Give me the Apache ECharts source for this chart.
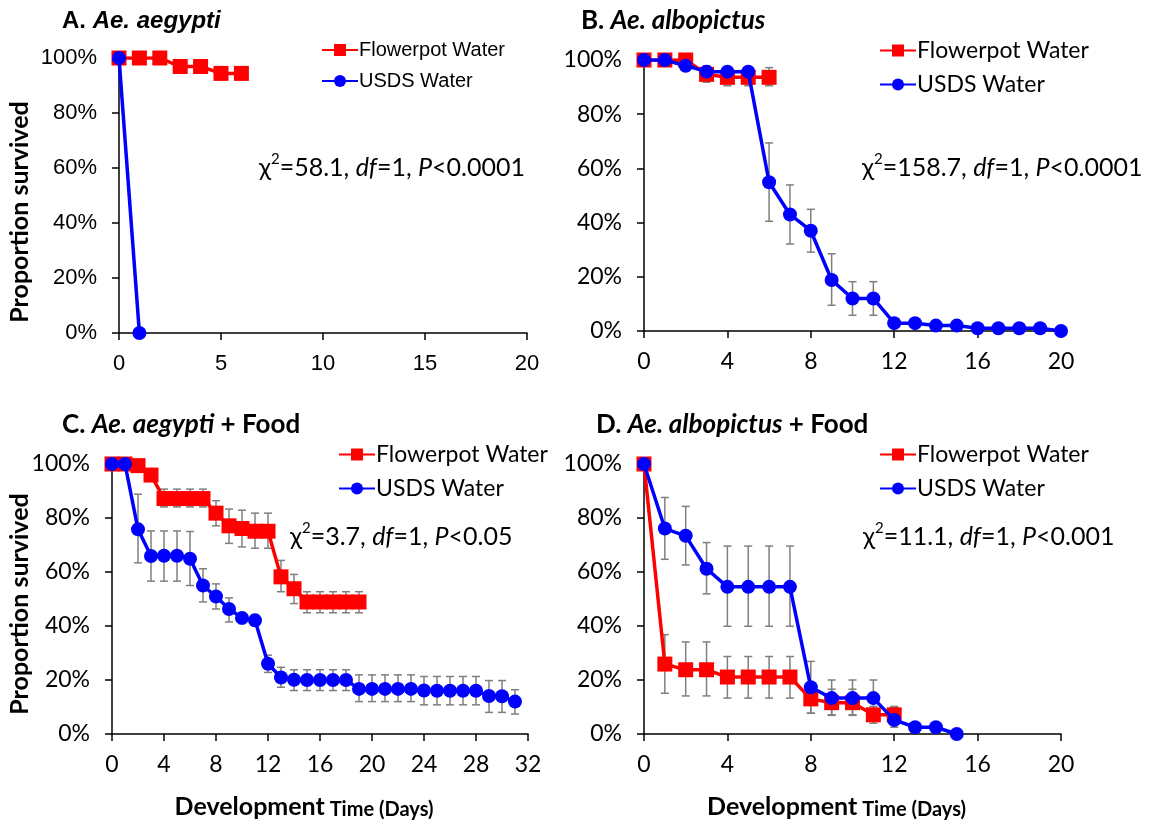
<!DOCTYPE html>
<html>
<head>
<meta charset="utf-8">
<title>Survival</title>
<script src="https://cdn.jsdelivr.net/npm/echarts@6/dist/echarts.min.js"></script>
<style>
  html, body { margin: 0; padding: 0; background: #fff; }
  #chart { width: 1160px; height: 823px; }
</style>
</head>
<body>
<div id="chart"></div>
<script>
// values are percent survived, index = day
var aFlower = [100, 100, 100, 96.9, 96.9, 94.4, 94.4];
var aUsds = [100, 0];

var bFlower = [100, 100, 100, 94.7, 93.6, 93.6, 93.6];
var bFlowerLo = [null, null, null, 91.8, 90.5, 90.5, 90.5];
var bFlowerHi = [null, null, null, 97.9, 97.3, 97.3, 97.2];
var bUsds = [100, 100, 97.9, 95.7, 95.7, 95.7, 54.9, 43, 37, 18.8, 12, 12, 2.9, 2.9, 2, 2, 1, 1, 1, 1, 0];
var bUsdsLo = [null, null, null, null, null, null, 40.5, 32.1, 29.1, 9.5, 5.8, 5.8];
var bUsdsHi = [null, null, null, null, null, null, 69.4, 53.9, 44.9, 28.5, 18.2, 18.2];

var cFlower = [100, 100, 99.4, 95.9, 87.2, 87.2, 87.2, 87.2, 81.8, 77.1, 76.1, 75.1, 75.1, 58.2, 53.8, 48.9, 48.9, 48.9, 48.9, 48.9];
var cFlowerLo = [null, null, null, null, 84.1, 84.1, 84.1, 84.1, 77.1, 70.6, 69.3, 68.8, 68.8, 52.7, 48.3, 44.9, 44.9, 44.9, 44.9, 44.9];
var cFlowerHi = [null, null, null, null, 90.7, 90.7, 90.7, 90.7, 86.4, 83.3, 82.9, 81.8, 81.8, 64.3, 59.1, 52.7, 52.7, 52.7, 52.7, 52.7];
var cUsds = [100, 100, 75.8, 65.9, 66, 66, 64.9, 55, 50.9, 46.3, 43, 42.1, 26, 20.9, 20.1, 20, 20, 20, 20, 16.7, 16.7, 16.7, 16.7, 16.7, 16.1, 16, 16, 16, 16, 14.1, 14, 12];
var cUsdsLo = [null, null, 63.4, 56.6, 56.6, 56.6, 55, 48.9, 46.3, 41.5, 40.9, 40.1, 22.8, 17.3, 16.1, 16.1, 16.1, 16.1, 16.1, 12, 12, 12, 12, 12, 10.8, 10.8, 10.8, 10.8, 10.8, 8, 8, 7.4];
var cUsdsHi = [null, null, 88.8, 75.2, 75.2, 75.2, 75, 61.2, 55.6, 50.4, 44.6, 44.2, 29.2, 24.7, 23.8, 23.8, 23.8, 23.8, 23.8, 21.9, 21.9, 21.9, 21.9, 21.9, 21.3, 21.3, 21.3, 21.3, 21.3, 19.8, 19.8, 16.4];

var dFlower = [100, 25.9, 23.8, 23.8, 21.1, 21.1, 21.1, 21.1, 13, 11.6, 11.6, 7.1, 7.1];
var dFlowerLo = [null, 15.1, 14.1, 14.1, 13.3, 13.3, 13.3, 13.3, 7.7, 7.1, 7.1, 4, 4];
var dFlowerHi = [null, 36.8, 34.1, 34.1, 28.7, 28.7, 28.7, 28.7, 17.6, 16.6, 16.6, 10.2, 10.2];
var dUsds = [100, 76.1, 73.4, 61.2, 54.5, 54.5, 54.5, 54.5, 17.3, 13.3, 13.3, 13.3, 5.2, 2.5, 2.5, 0];
var dUsdsLo = [null, 64.7, 62.6, 51.9, 39.9, 39.9, 39.9, 39.9, 7.7, 6.9, 6.9, 6.9, 2.5];
var dUsdsHi = [null, 87.6, 84.3, 70.9, 69.6, 69.6, 69.6, 69.6, 26.9, 20, 20, 20, 9.9];

var xMax = [20, 20, 32, 20];
var xStep = [5, 4, 4, 4];
var stats = ['=58.1, ', '=158.7, ', '=3.7, ', '=11.1, '];
var pvals = ['<0.0001', '<0.0001', '<0.05', '<0.001'];

var RED = '#ff0000', BLUE = '#0000ff', GREY = '#7f7f7f';
var ARIAL = 'Liberation Sans', CAL = 'Lato';

var grids = [
  { left: 119, top: 58, width: 408, height: 275 },
  { left: 644, top: 60, width: 417, height: 271 },
  { left: 112, top: 464, width: 416, height: 270 },
  { left: 644, top: 464, width: 417, height: 270 }
];

function pts(arr) { return arr.map(function (v, i) { return [i, v]; }); }
function errPts(lo, hi) {
  var out = [];
  lo.forEach(function (l, i) { if (l != null) out.push([i, l, hi[i]]); });
  return out;
}

function lineSeries(name, vals, g, color, sym) {
  return {
    name: name, type: 'line', xAxisIndex: g, yAxisIndex: g, data: pts(vals),
    symbol: sym, symbolSize: sym === 'rect' ? 15 : 14, z: sym === 'rect' ? 3 : 4,
    lineStyle: { color: color, width: 3.5 }, itemStyle: { color: color },
    animation: false
  };
}

function errSeries(lo, hi, g) {
  return {
    type: 'custom', xAxisIndex: g, yAxisIndex: g, data: errPts(lo, hi), z: 2,
    encode: { x: 0, y: [1, 2] }, animation: false, silent: true,
    renderItem: function (params, api) {
      var x = api.value(0);
      var p1 = api.coord([x, api.value(1)]);
      var p2 = api.coord([x, api.value(2)]);
      var w = 4;
      var st = { stroke: GREY, lineWidth: 1.5 };
      return {
        type: 'group', children: [
          { type: 'line', shape: { x1: p1[0], y1: p1[1], x2: p2[0], y2: p2[1] }, style: st },
          { type: 'line', shape: { x1: p1[0] - w, y1: p1[1], x2: p1[0] + w, y2: p1[1] }, style: st },
          { type: 'line', shape: { x1: p2[0] - w, y1: p2[1], x2: p2[0] + w, y2: p2[1] }, style: st }
        ]
      };
    }
  };
}

var xAxes = [], yAxes = [];
for (var g = 0; g < 4; g++) {
  var font = g === 0 ? ARIAL : CAL;
  var fs = g === 0 ? 22 : 23;
  xAxes.push({
    type: 'value', gridIndex: g, min: 0, max: xMax[g], interval: xStep[g],
    axisLine: { show: true, onZero: false, lineStyle: { color: '#000', width: 1.5 } },
    axisTick: { show: true, inside: false, length: 7, lineStyle: { color: '#000', width: 1.5 } },
    axisLabel: { color: '#000', fontFamily: font, fontSize: fs, margin: g === 0 ? 20 : 19 },
    splitLine: { show: false }
  });
  yAxes.push({
    type: 'value', gridIndex: g, min: 0, max: 100, interval: 20,
    axisLine: { show: true, lineStyle: { color: '#000', width: 1.5 } },
    axisTick: { show: true, inside: false, length: 7, lineStyle: { color: '#000', width: 1.5 } },
    axisLabel: { color: '#000', fontFamily: font, fontSize: fs, margin: 22, formatter: '{value}%' },
    splitLine: { show: false }
  });
}

var series = [
  lineSeries('Flowerpot Water', aFlower, 0, RED, 'rect'),
  lineSeries('USDS Water', aUsds, 0, BLUE, 'circle'),
  errSeries(bFlowerLo, bFlowerHi, 1),
  errSeries(bUsdsLo, bUsdsHi, 1),
  lineSeries('Flowerpot Water', bFlower, 1, RED, 'rect'),
  lineSeries('USDS Water', bUsds, 1, BLUE, 'circle'),
  errSeries(cFlowerLo, cFlowerHi, 2),
  errSeries(cUsdsLo, cUsdsHi, 2),
  lineSeries('Flowerpot Water', cFlower, 2, RED, 'rect'),
  lineSeries('USDS Water', cUsds, 2, BLUE, 'circle'),
  errSeries(dFlowerLo, dFlowerHi, 3),
  errSeries(dUsdsLo, dUsdsHi, 3),
  lineSeries('Flowerpot Water', dFlower, 3, RED, 'rect'),
  lineSeries('USDS Water', dUsds, 3, BLUE, 'circle')
];

// [left, top, gap, font, size]
var legendPos = [[316, 35, 11, ARIAL, 20], [874, 34, 11, CAL, 23], [333, 438, 11, CAL, 23], [874, 438, 11, CAL, 23]];
var legends = legendPos.map(function (p) {
  return {
    orient: 'vertical', left: p[0], top: p[1], itemGap: p[2], itemWidth: 36, itemHeight: 15,
    data: ['Flowerpot Water', 'USDS Water'], selectedMode: false,
    textStyle: { color: '#000', fontFamily: p[3], fontSize: p[4], padding: [0, 0, 0, -4] }
  };
});

var titleRich = {
  b: { fontFamily: CAL, fontWeight: 'bold', fontSize: 26, color: '#000' },
  bi: { fontFamily: CAL, fontWeight: 'bold', fontStyle: 'italic', fontSize: 26, color: '#000' },
  ab: { fontFamily: ARIAL, fontWeight: 'bold', fontSize: 24, color: '#000' },
  abi: { fontFamily: ARIAL, fontWeight: 'bold', fontStyle: 'italic', fontSize: 24, color: '#000' }
};
var titles = [
  [62, 21, '{ab|A. }{abi|Ae. aegypti}'],
  [581, 21, '{b|B. }{bi|Ae. albopictus}'],
  [62, 425, '{b|C. }{bi|Ae. aegypti}{b| + Food}'],
  [596, 425, '{b|D. }{bi|Ae. albopictus}{b| + Food}']
];

var statRich = {
  n: { fontFamily: CAL, fontSize: 25, color: '#000', lineHeight: 32, verticalAlign: 'middle' },
  i: { fontFamily: CAL, fontSize: 25, fontStyle: 'italic', color: '#000', lineHeight: 32, verticalAlign: 'middle' },
  s: { fontFamily: CAL, fontSize: 15, color: '#000', lineHeight: 15, verticalAlign: 'top' }
};
var statPos = [[259, 168], [862, 168], [290, 537], [863, 537]];

var graphics = [];
titles.forEach(function (t) {
  graphics.push({ type: 'text', x: t[0], y: t[1], style: { text: t[2], rich: titleRich, align: 'left', verticalAlign: 'middle' } });
});
statPos.forEach(function (p, k) {
  graphics.push({
    type: 'text', x: p[0], y: p[1],
    style: { text: '{n|χ}{s|2}{n|' + stats[k] + '}{i|df}{n|=1, }{i|P}{n|' + pvals[k] + '}', rich: statRich, align: 'left', verticalAlign: 'middle' }
  });
});
// y-axis titles (left column)
[[20, 212], [20, 604]].forEach(function (p) {
  graphics.push({
    type: 'text', x: p[0], y: p[1], rotation: Math.PI / 2,
    style: { text: 'Proportion survived', fontFamily: CAL, fontWeight: 'bold', fontSize: 25, fill: '#000', align: 'center', verticalAlign: 'middle' }
  });
});
var xTitleRich = {
  a: { fontFamily: CAL, fontWeight: 'bold', fontSize: 25, color: '#000', verticalAlign: 'bottom' },
  t: { fontFamily: CAL, fontWeight: 'bold', fontSize: 20, color: '#000', verticalAlign: 'bottom' }
};
[2, 3].forEach(function (g) {
  graphics.push({
    type: 'text', x: grids[g].left + grids[g].width / 2 - 16, y: 807,
    style: { text: '{a|Development}{t| Time (Days)}', rich: xTitleRich, align: 'center', verticalAlign: 'middle' }
  });
});

var chart = echarts.init(document.getElementById('chart'));
chart.setOption({
  backgroundColor: '#fff',
  animation: false,
  grid: grids,
  xAxis: xAxes,
  yAxis: yAxes,
  legend: legends,
  series: series,
  graphic: graphics
});
</script>
</body>
</html>
